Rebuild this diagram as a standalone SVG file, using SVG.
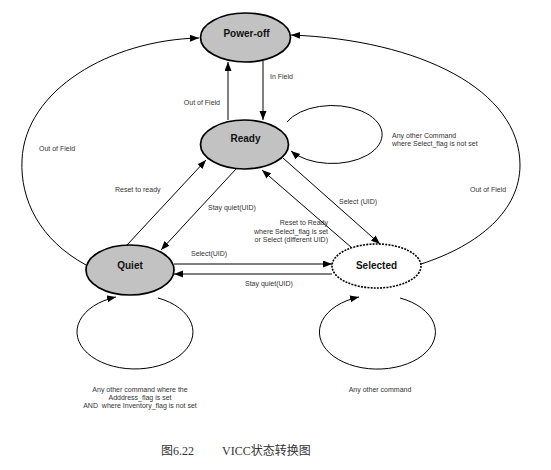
<svg xmlns="http://www.w3.org/2000/svg" width="551" height="470" viewBox="0 0 551 470">
<style>
.node{fill:#c2c2c2;stroke:#000;stroke-width:1.7}
.sel{fill:#fff;stroke:#000;stroke-width:1.6;stroke-dasharray:2 1.2}
.nl{font-family:"Liberation Sans",Arial,sans-serif;font-size:10px;font-weight:bold;text-anchor:middle;fill:#111}
.e{fill:none;stroke:#000;stroke-width:1}
.lb{font-family:"Liberation Sans",Arial,sans-serif;font-size:7px;fill:#333}
.cap{font-family:"Liberation Serif","Noto Sans CJK SC",serif;font-size:12px;fill:#333}
</style>
<defs>
<marker id="ah" markerUnits="userSpaceOnUse" markerWidth="10" markerHeight="8" refX="9" refY="3.5" orient="auto">
<path d="M0,0 L9,3.5 L0,7 z" fill="#000"/>
</marker>
</defs>
<rect width="551" height="470" fill="#fff"/>
<g id="connectors">
<path class="e" d="M86,265 C40,240 20,200 22,160 C25,90 110,40 199,38" marker-end="url(#ah)"/>
<path class="e" d="M421,264 C480,245 520,210 520,165 C520,90 420,40 291,35" marker-end="url(#ah)"/>
<path class="e" d="M228,120 L228,62" marker-end="url(#ah)"/>
<path class="e" d="M263,61 L263,120" marker-end="url(#ah)"/>
<path class="e" d="M287,122 A50,29 0 1 1 291,151" marker-end="url(#ah)"/>
<path class="e" d="M127,245 L206,160" marker-end="url(#ah)"/>
<path class="e" d="M236,169 L161,250" marker-end="url(#ah)"/>
<path class="e" d="M174,264 L332,264" marker-end="url(#ah)"/>
<path class="e" d="M332,274 L174,274" marker-end="url(#ah)"/>
<path class="e" d="M283,158 L380,244" marker-end="url(#ah)"/>
<path class="e" d="M352,248 L262,170" marker-end="url(#ah)"/>
<path class="e" d="M158,298 A58,37 0 1 1 116,297" marker-end="url(#ah)"/>
<path class="e" d="M400,298 A58,37 0 1 1 359,297" marker-end="url(#ah)"/>
</g>
<g id="power-off"><ellipse class="node" cx="245.5" cy="37.5" rx="45" ry="24.5"/><text class="nl" x="246.5" y="37">Power-off</text></g>
<g id="ready"><ellipse class="node" cx="244.5" cy="144.5" rx="44" ry="24.5"/><text class="nl" x="245.5" y="141.5">Ready</text></g>
<g id="quiet"><ellipse class="node" cx="130" cy="270" rx="44" ry="25"/><text class="nl" x="130" y="269">Quiet</text></g>
<g id="selected"><ellipse class="sel" cx="376.5" cy="266" rx="44.5" ry="22"/><text class="nl" x="376.5" y="268.5">Selected</text></g>
<g id="labels">
<text class="lb" x="270" y="79">In Field</text>
<text class="lb" x="220" y="104.5" text-anchor="end">Out of Field</text>
<text class="lb" x="392" y="137.5">Any other Command</text>
<text class="lb" x="392" y="145.5">where Select_flag is not set</text>
<text class="lb" x="39" y="150.5">Out of Field</text>
<text class="lb" x="470" y="191.5">Out of Field</text>
<text class="lb" x="115" y="191.5">Reset to ready</text>
<text class="lb" x="208" y="210">Stay quiet(UID)</text>
<text class="lb" x="339" y="203.5">Select (UID)</text>
<text class="lb" x="328" y="225" text-anchor="end">Reset to Ready</text>
<text class="lb" x="328" y="233.5" text-anchor="end">where Select_flag is set</text>
<text class="lb" x="328" y="241.5" text-anchor="end">or Select (different UID)</text>
<text class="lb" x="191" y="256">Select(UID)</text>
<text class="lb" x="245" y="285.5">Stay quiet(UID)</text>
<text class="lb" x="140" y="391.5" text-anchor="middle">Any other command where the</text>
<text class="lb" x="140" y="399.5" text-anchor="middle">Adddress_flag is set</text>
<text class="lb" x="140" y="407.5" text-anchor="middle" xml:space="preserve">AND  where Inventory_flag is not set</text>
<text class="lb" x="380" y="391.5" text-anchor="middle">Any other command</text>
<text class="cap" x="161" y="455">图6.22</text>
<text class="cap" x="222" y="455">VICC状态转换图</text>
</g>
</svg>
